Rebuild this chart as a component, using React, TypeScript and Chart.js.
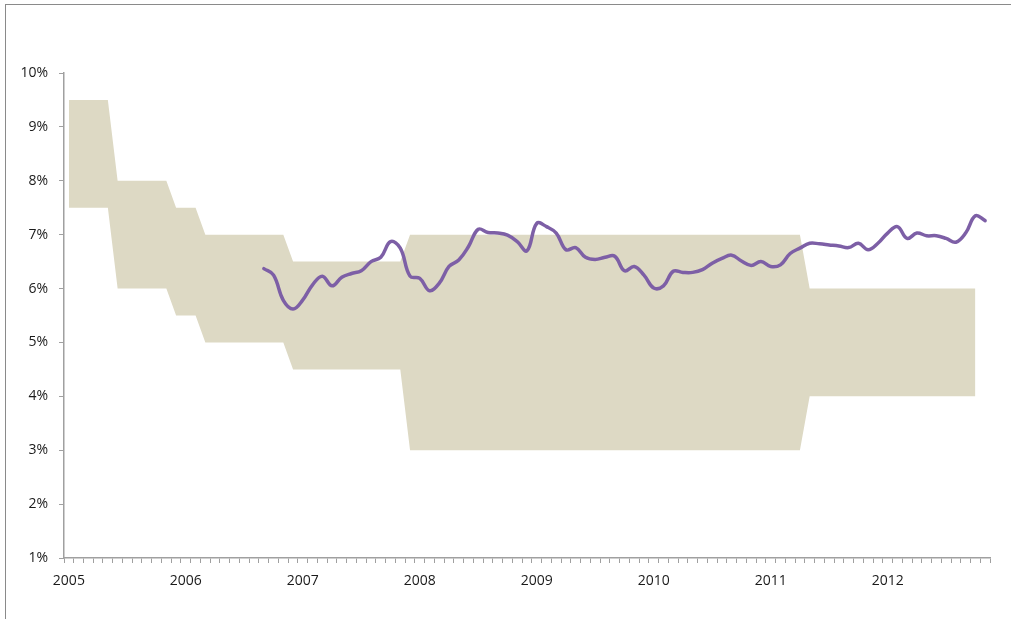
import React, { useEffect, useRef } from 'react';
import { Chart, registerables } from 'chart.js';

Chart.register(...registerables);

// Year tick labels (January of each year)
const years = ['2005', '2006', '2007', '2008', '2009', '2010', '2011', '2012'];
const monthsInLastYear = 11; // data runs Jan 2005 .. Nov 2012

// Monthly categories
const categories: string[] = [];
years.forEach((y, yi) => {
  const n = yi === years.length - 1 ? monthsInLastYear : 12;
  for (let m = 1; m <= n; m++) categories.push(`${y}-${String(m).padStart(2, '0')}`);
});

// Target band, upper bound (%), Jan 2005 .. Oct 2012
const bandUpper: (number | null)[] = [
  9.5, 9.5, 9.5, 9.5, 9.5,
  8, 8, 8, 8, 8, 8,
  7.5, 7.5, 7.5,
  7, 7, 7, 7, 7, 7, 7, 7, 7,
  6.5, 6.5, 6.5, 6.5, 6.5, 6.5, 6.5, 6.5, 6.5, 6.5, 6.5, 6.5,
  7, 7, 7, 7, 7, 7, 7, 7, 7, 7, 7, 7, 7, 7, 7, 7, 7, 7, 7, 7,
  7, 7, 7, 7, 7, 7, 7, 7, 7, 7, 7, 7, 7, 7, 7, 7, 7, 7, 7, 7, 7,
  6, 6, 6, 6, 6, 6, 6, 6, 6, 6, 6, 6, 6, 6, 6, 6, 6, 6,
  null,
];

// Target band, lower bound (%)
const bandLower: (number | null)[] = [
  7.5, 7.5, 7.5, 7.5, 7.5,
  6, 6, 6, 6, 6, 6,
  5.5, 5.5, 5.5,
  5, 5, 5, 5, 5, 5, 5, 5, 5,
  4.5, 4.5, 4.5, 4.5, 4.5, 4.5, 4.5, 4.5, 4.5, 4.5, 4.5, 4.5,
  3, 3, 3, 3, 3, 3, 3, 3, 3, 3, 3, 3, 3, 3, 3, 3, 3, 3, 3, 3,
  3, 3, 3, 3, 3, 3, 3, 3, 3, 3, 3, 3, 3, 3, 3, 3, 3, 3, 3, 3, 3,
  4, 4, 4, 4, 4, 4, 4, 4, 4, 4, 4, 4, 4, 4, 4, 4, 4, 4,
  null,
];

// Inflation (%), Sep 2006 .. Nov 2012
const inflation: (number | null)[] = [
  null, null, null, null, null, null, null, null, null, null,
  null, null, null, null, null, null, null, null, null, null,
  6.37, 6.25, 5.78, 5.62, 5.79, 6.07, 6.23, 6.05, 6.21, 6.28,
  6.33, 6.50, 6.58, 6.87, 6.75, 6.23, 6.19, 5.96, 6.10, 6.41,
  6.53, 6.78, 7.10, 7.04, 7.03, 6.99, 6.87, 6.70, 7.21, 7.15,
  7.03, 6.72, 6.76, 6.58, 6.54, 6.58, 6.60, 6.33, 6.41, 6.25,
  6.01, 6.05, 6.32, 6.30, 6.30, 6.35, 6.47, 6.56, 6.62, 6.51,
  6.43, 6.50, 6.41, 6.44, 6.65, 6.75, 6.84, 6.83, 6.81, 6.79,
  6.76, 6.84, 6.72, 6.84, 7.03, 7.15, 6.93, 7.03, 6.98, 6.98,
  6.93, 6.86, 7.03, 7.35, 7.26,
];

const AXIS = '#a0a0a0';
const TEXT = '#1a1a1a';
const FONT = '"Open Sans", "Noto Sans", sans-serif';

export default function App() {
  const ref = useRef<HTMLCanvasElement | null>(null);

  useEffect(() => {
    if (!ref.current) return;
    const chart = new Chart(ref.current, {
      type: 'line',
      data: {
        labels: categories,
        datasets: [
          {
            label: 'Inflation',
            data: inflation,
            borderColor: '#7d5fa6',
            borderWidth: 3.5,
            pointRadius: 0,
            tension: 0.4,
            fill: false,
            borderCapStyle: 'round',
            borderJoinStyle: 'round',
          },
          {
            label: 'Lower',
            data: bandLower,
            borderWidth: 0,
            borderColor: 'rgba(0,0,0,0)',
            pointRadius: 0,
            tension: 0,
            fill: false,
          },
          {
            label: 'Upper',
            data: bandUpper,
            borderWidth: 0,
            borderColor: 'rgba(0,0,0,0)',
            backgroundColor: '#ddd9c4',
            pointRadius: 0,
            tension: 0,
            fill: 1,
          },
        ],
      },
      options: {
        animation: false,
        responsive: false,
        maintainAspectRatio: false,
        layout: { padding: { left: 0, right: 21, top: 73, bottom: 21 } },
        plugins: { legend: { display: false }, tooltip: { enabled: false } },
        scales: {
          x: {
            type: 'category',
            offset: true,
            grid: {
              offset: true,
              drawOnChartArea: false,
              drawTicks: true,
              tickLength: 5,
              color: AXIS,
            },
            border: { display: true, color: AXIS, width: 1.5 },
            ticks: {
              autoSkip: false,
              maxRotation: 0,
              minRotation: 0,
              padding: 10,
              color: TEXT,
              font: { family: FONT, size: 14 },
              callback: (_v: any, i: number) => {
                const c = categories[i];
                return c && c.endsWith('-01') ? c.slice(0, 4) : '';
              },
            },
            afterFit: (s: any) => {
              s.height = 40;
            },
          },
          y: {
            min: 1,
            max: 10,
            grid: {
              drawOnChartArea: false,
              drawTicks: true,
              tickLength: 5,
              color: AXIS,
            },
            border: { display: true, color: AXIS, width: 1.5 },
            ticks: {
              stepSize: 1,
              padding: 11,
              color: TEXT,
              font: { family: FONT, size: 14 },
              callback: (v: any) => `${v}%`,
            },
            afterFit: (s: any) => {
              s.width = 64;
            },
          },
        },
      },
    });
    return () => chart.destroy();
  }, []);

  return (
    <div
      style={{
        position: 'fixed',
        left: 0,
        top: 0,
        width: 1011,
        height: 619,
        background: '#fff',
        overflow: 'hidden',
      }}
    >
      <div
        style={{
          position: 'absolute',
          left: 5,
          top: 4,
          width: 1100,
          height: 700,
          borderLeft: '1px solid #8a8a8a',
          borderTop: '1px solid #8a8a8a',
        }}
      />
      <canvas
        ref={ref}
        width={1011}
        height={619}
        style={{ position: 'absolute', left: 0, top: 0, width: 1011, height: 619 }}
      />
    </div>
  );
}
